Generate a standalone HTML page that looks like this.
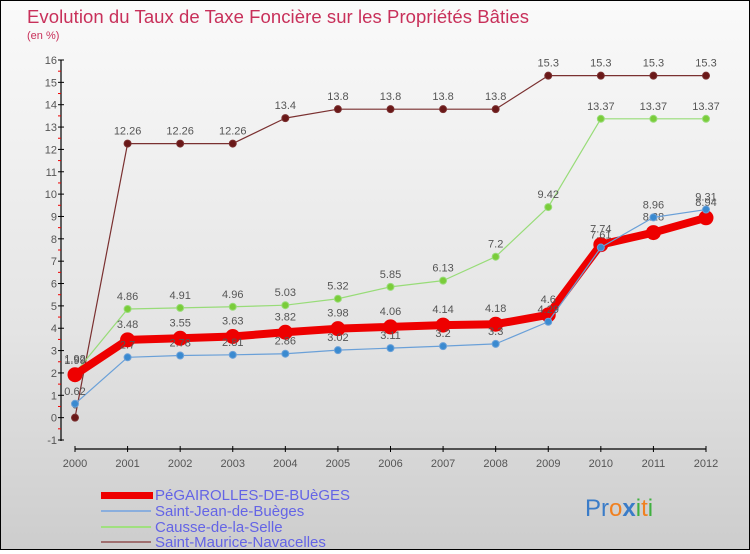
<!DOCTYPE html>
<html><head><meta charset="utf-8"><style>
html,body{margin:0;padding:0;}
body{width:750px;height:550px;overflow:hidden;font-family:"Liberation Sans",sans-serif;}
#wrap{position:relative;width:748px;height:548px;border:1px solid #000;background:linear-gradient(#fafafa,#e4e4e4 60%,#cdcdcd);}
</style></head><body>
<div id="wrap">
<svg id="chart" width="748" height="548" xmlns="http://www.w3.org/2000/svg">
<text x="26" y="22" font-size="18.5" fill="#c8305a" textLength="502">Evolution du Taux de Taxe Foncière sur les Propriétés Bâties</text>
<text x="26" y="38" font-size="11" fill="#c8305a">(en %)</text>
<g id="axes"></g>
<g id="series"></g>
<g id="legend">
<rect x="100" y="491" width="52" height="7" fill="#ee0000"/>
<text x="154" y="499" font-size="15" fill="#6464e6">PéGAIROLLES-DE-BUèGES</text>
<line x1="100" y1="510" x2="150" y2="510" stroke="#8aaedd" stroke-width="2"/>
<text x="154" y="515" font-size="15" fill="#6464e6">Saint-Jean-de-Buèges</text>
<line x1="100" y1="526" x2="150" y2="526" stroke="#a0e080" stroke-width="2"/>
<text x="154" y="531" font-size="15" fill="#6464e6">Causse-de-la-Selle</text>
<line x1="100" y1="541" x2="150" y2="541" stroke="#a07070" stroke-width="2"/>
<text x="154" y="546" font-size="15" fill="#6464e6">Saint-Maurice-Navacelles</text>
</g>
<text x="584" y="515" font-size="24"><tspan fill="#3a7cc8">Pr</tspan><tspan fill="#f08020">o</tspan><tspan fill="#3a7cc8" font-weight="bold">x</tspan><tspan fill="#40b040">i</tspan><tspan fill="#f08020">t</tspan><tspan fill="#40b040">i</tspan></text>
</svg>
</div>
<script>
const years=[2000,2001,2002,2003,2004,2005,2006,2007,2008,2009,2010,2011,2012];
const pegairolles=[1.92,3.48,3.55,3.63,3.82,3.98,4.06,4.14,4.18,4.6,7.74,8.28,8.94];
const saintJean=[0.62,2.7,2.78,2.81,2.86,3.02,3.11,3.2,3.3,4.29,7.61,8.96,9.31];
const causse=[1.99,4.86,4.91,4.96,5.03,5.32,5.85,6.13,7.2,9.42,13.37,13.37,13.37];
const saintMaurice=[0,12.26,12.26,12.26,13.4,13.8,13.8,13.8,13.8,15.3,15.3,15.3,15.3];
const yTicks=[-1,0,1,2,3,4,5,6,7,8,9,10,11,12,13,14,15,16];
const NS="http://www.w3.org/2000/svg";
const x0=74,x1=705,yTop=59,yBot=439,vMin=-1,vMax=16;
const X=i=>x0+(x1-x0)*i/(years.length-1);
const Y=v=>yBot-(v-vMin)*(yBot-yTop)/(vMax-vMin);
function mk(tag,attrs,parent){const e=document.createElementNS(NS,tag);for(const k in attrs)e.setAttribute(k,attrs[k]);parent.appendChild(e);return e;}
const ax=document.getElementById('axes');
let l=mk('line',{x1:60,y1:yTop,x2:60,y2:yBot+1,stroke:'#000','stroke-width':1.2},ax);


yTicks.forEach(v=>{
 let t=mk('line',{x1:57,y1:Y(v),x2:63,y2:Y(v),stroke:'#000'},ax);
 
 
 if(v<vMax){let m=mk('line',{x1:57,y1:Y(v+0.5),x2:60,y2:Y(v+0.5),stroke:'#e00'},ax);
 
 }
 let tx=mk('text',{x:56,y:Y(v)+4,'font-size':11,fill:'#555','text-anchor':'end'},ax);
 tx.textContent=v;
 
 
});
l=mk('line',{x1:X(0),y1:448,x2:X(years.length-1),y2:448,stroke:'#000','stroke-width':1.2},ax);


years.forEach((yr,i)=>{
 let t=mk('line',{x1:X(i),y1:445,x2:X(i),y2:451,stroke:'#000'},ax);
 
 
 let tx=mk('text',{x:X(i),y:466,'font-size':11,fill:'#555','text-anchor':'middle'},ax);
 tx.textContent=yr;
 
 
});
const sg=document.getElementById('series');
function draw(vals,name,color,w,r,dot,labelDy){
 const g=mk('g',{},sg);
 
 
 const pl=mk('polyline',{points:vals.map((v,i)=>X(i)+','+Y(v)).join(' '),fill:'none',stroke:color,'stroke-width':w,'stroke-linejoin':'round'},g);
 
 
 vals.forEach((v,i)=>{
  const c=mk('circle',{cx:X(i),cy:Y(v),r:r,fill:dot,stroke:color,'stroke-width':1},g);
  
  
  const t=mk('text',{x:X(i),y:Y(v)+labelDy,'font-size':11,fill:'#555','text-anchor':'middle'},g);
  t.textContent=String(v);
  
  
 });
}
draw(saintMaurice,'saint-maurice','#7a3030',1.2,3.5,'#6a1818',-9);
draw(causse,'causse','#98dc78',1.2,3.5,'#7acc3a',-9);
draw(pegairolles,'pegairolles','#ee0000',8,7,'#ee0000',-12);
draw(saintJean,'saint-jean','#6aa0d8',1.2,3.5,'#3a8ad0',-9);
</script>
</body></html>
